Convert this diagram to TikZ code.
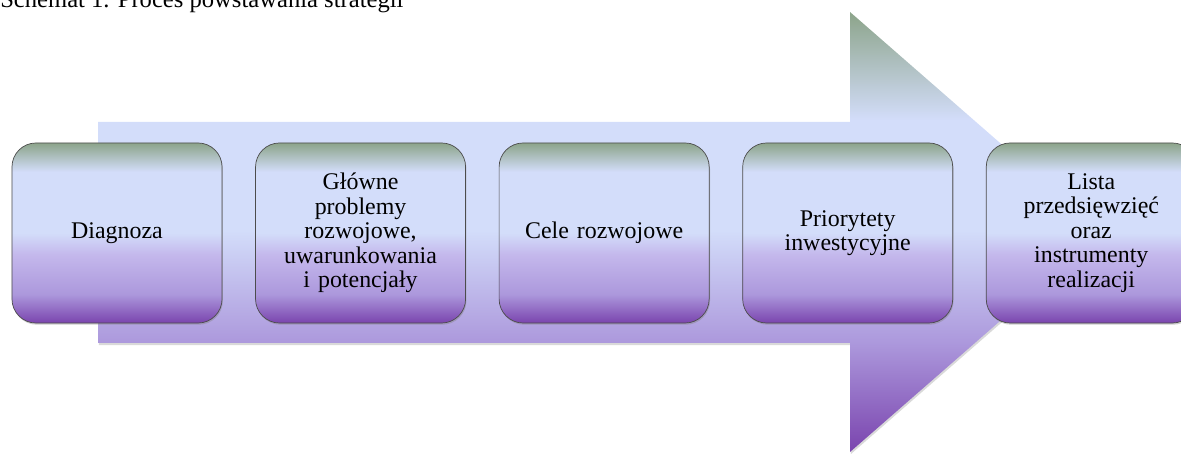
\documentclass[tikz,border=0pt]{standalone}
\usepackage{fontspec}
\setmainfont{Liberation Serif}
\usetikzlibrary{positioning,shadows}
\definecolor{vertF}{RGB}{140,164,138}
\definecolor{bleuF}{RGB}{211,221,250}
\definecolor{lavandeF}{RGB}{172,152,220}
\definecolor{violetF}{RGB}{122,68,174}
\definecolor{mauveF}{RGB}{196,184,236}
\pgfdeclareverticalshading{fondfleche}{100bp}{color(0bp)=(violetF); color(25bp)=(violetF); color(37.4bp)=(lavandeF); color(50.2bp)=(bleuF); color(62.7bp)=(bleuF); color(75bp)=(vertF); color(100bp)=(vertF)}
\pgfdeclareverticalshading{fondetape}{100bp}{color(0bp)=(violetF); color(25bp)=(violetF); color(33bp)=(lavandeF); color(44bp)=(mauveF); color(50bp)=(bleuF); color(67bp)=(bleuF); color(75bp)=(vertF); color(100bp)=(vertF)}
\tikzstyle{etape} = [rectangle,rounded corners=0.6cm,draw=black!70,line width=0.5pt,shading=fondetape,minimum width=5.25cm,minimum height=4.5cm,text width=4.8cm,align=center,font=\fontsize{17}{17.4}\selectfont,drop shadow={opacity=0.4,shadow xshift=0.6pt,shadow yshift=-1.2pt}]

\begin{document}
\begin{tikzpicture}[x=0.025cm,y=0.025cm]

	\useasboundingbox (0,0) rectangle (1181,453);

	\node (Titre) [anchor=base west,inner sep=0pt,font=\fontsize{17.5}{20}\selectfont] at (0,445) {Schemat 1. Proces powstawania strategii};

	%% Grande fleche
	\path [shading=fondfleche,drop shadow={opacity=0.3,shadow xshift=0.6pt,shadow yshift=-1.5pt}] (98,110) -- (98,331) -- (850,331) -- (850,441) -- (1102,221) -- (850,1) -- (850,110) -- cycle;

	%% Etapes
	\node [etape] (E1) at (117,220) {Diagnoza};
	\node [etape,right=0.82cm of E1] (E2) {Główne\\problemy\\rozwojowe,\\uwarunkowania\\i potencjały};
	\node [etape,right=0.82cm of E2] (E3) {Cele rozwojowe};
	\node [etape,right=0.82cm of E3] (E4) {Priorytety\\inwestycyjne};
	\node [etape,right=0.82cm of E4] (E5) {Lista\\przedsięwzięć\\oraz\\instrumenty\\realizacji};

\end{tikzpicture}
\end{document}
